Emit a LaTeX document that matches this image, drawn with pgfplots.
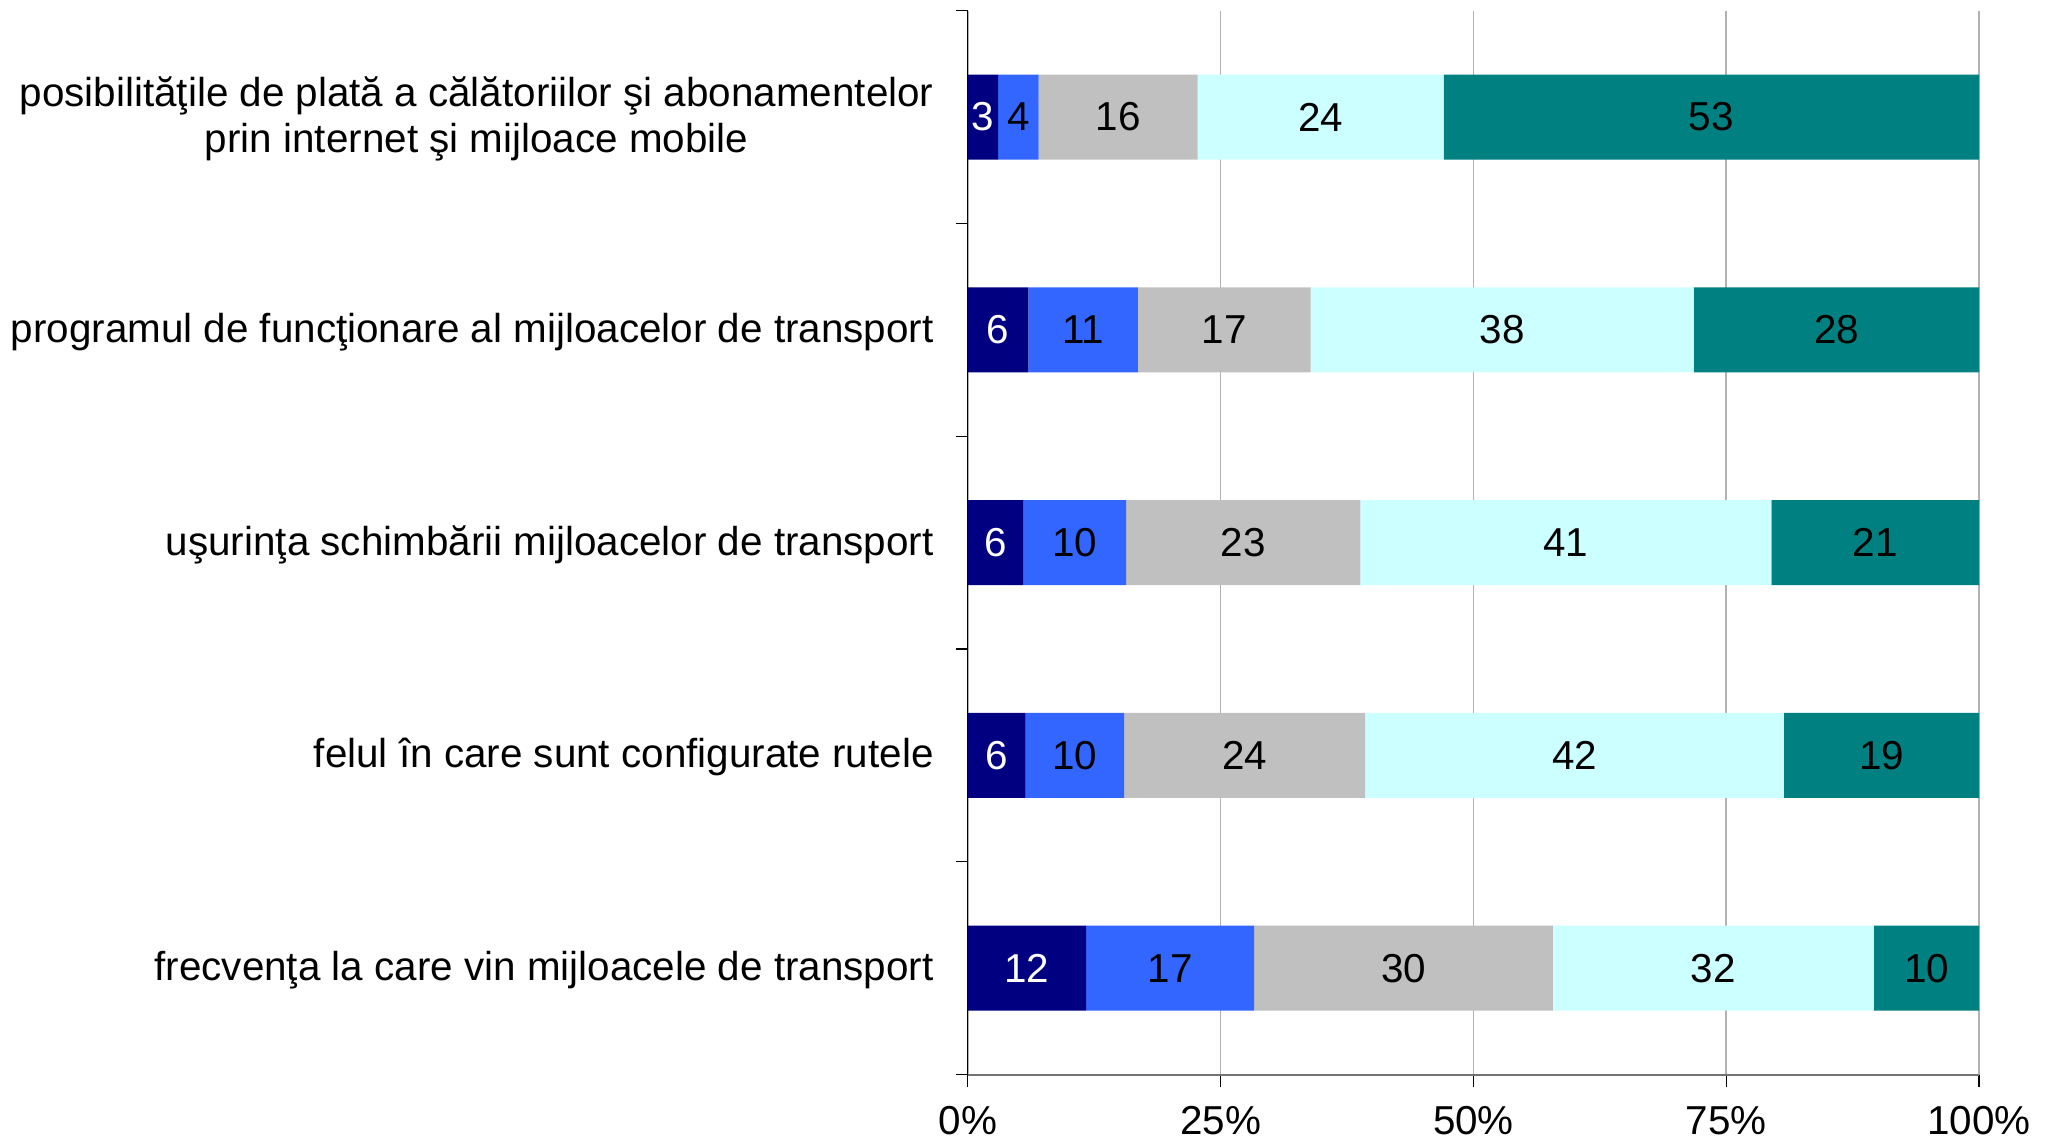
\documentclass[border=0pt]{standalone}
\usepackage{pgfplots}
\pgfplotsset{compat=1.18}
\usepackage{pgfplotstable}
\usepackage{fontspec}
\setmainfont{Liberation Sans}
\definecolor{c1}{HTML}{000080}
\definecolor{c2}{HTML}{3366FF}
\definecolor{c3}{HTML}{C0C0C0}
\definecolor{c4}{HTML}{CCFFFF}
\definecolor{c5}{HTML}{008080}
\newcommand\myfont{\fontsize{20.2}{23}\selectfont}
\pgfplotstableread{
y w1 l1 w2 l2 w3 l3 w4 l4 w5 l5
4 2.98 3 4.02 4 15.71 16 24.35 24 52.94 53
3 5.97 6 10.84 11 17.08 17 37.92 38 28.19 28
2 5.45 6 10.19 10 23.18 23 40.65 41 20.53 21
1 5.71 6 9.74 10 23.83 24 41.43 42 19.29 19
0 11.69 12 16.62 17 29.55 30 31.75 32 10.39 10
}\data
\begin{document}
\begin{tikzpicture}
\useasboundingbox (-484pt,-33pt) rectangle (543.1pt,537.35pt);
\begin{axis}[
  at={(0,0)}, anchor=south west,
  xbar stacked,
  scale only axis,
  width=505.6pt, height=532pt,
  bar width=42.5pt,
  xmin=0, xmax=100,
  ymin=-0.5, ymax=4.5,
  axis x line*=bottom, axis y line*=left,
  x axis line style={draw=black!55, line width=1pt},
  y axis line style={draw=black, line width=0.6pt},
  tick align=outside,
  major tick length=6pt,
  tick style={draw=black, line width=0.6pt},
  xtick={0,25,50,75,100},
  xticklabels={0\%,25\%,50\%,75\%,100\%},
  xmajorgrids,
  major grid style={draw=black!30, line width=0.75pt},
  ytick={-0.5,0.5,1.5,2.5,3.5,4.5},
  yticklabels={},
  extra y ticks={0,1,2,3,4},
  extra y tick labels={frecvenţa la care vin mijloacele de transport,felul în care sunt configurate rutele,uşurinţa schimbării mijloacelor de transport,programul de funcţionare al mijloacelor de transport,{posibilităţile de plată a călătoriilor şi abonamentelor\\prin internet şi mijloace mobile}},
  extra y tick style={major tick length=0pt, yticklabel style={align=center, xshift=-13.6pt, yshift=-1pt}},
  tick label style={font=\myfont},
  xticklabel style={yshift=-6.5pt},
  point meta=explicit symbolic,
  nodes near coords,
  every node near coord/.append style={font=\myfont, anchor=center},
]
\addplot[fill=c1, draw=none, every node near coord/.append style={text=white}] table[x=w1, y=y, meta=l1] {\data};
\addplot[fill=c2, draw=none] table[x=w2, y=y, meta=l2] {\data};
\addplot[fill=c3, draw=none] table[x=w3, y=y, meta=l3] {\data};
\addplot[fill=c4, draw=none] table[x=w4, y=y, meta=l4] {\data};
\addplot[fill=c5, draw=none] table[x=w5, y=y, meta=l5] {\data};
\end{axis}
\end{tikzpicture}
\end{document}
